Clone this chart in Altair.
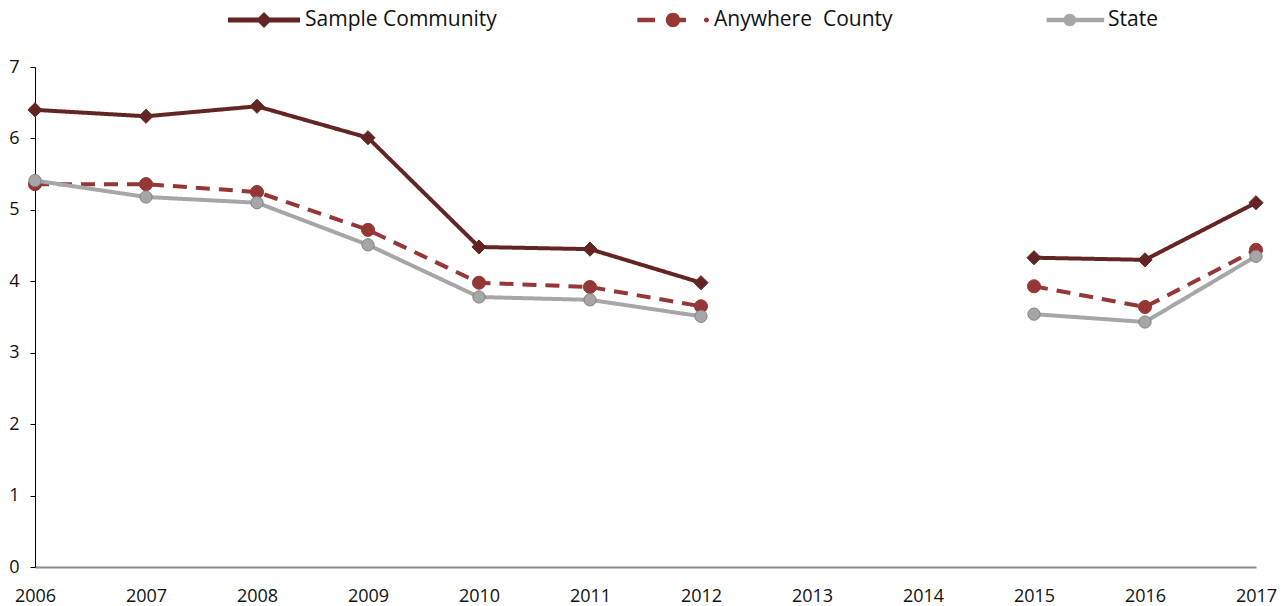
import altair as alt
import pandas as pd

years = [2006, 2007, 2008, 2009, 2010, 2011, 2012, 2013, 2014, 2015, 2016, 2017]
series_names = ["Sample Community", "Anywhere\u00a0 County", "State"]
sample_community = [6.40, 6.31, 6.45, 6.01, 4.48, 4.45, 3.98, None, None, 4.33, 4.30, 5.10]
anywhere_county = [5.36, 5.36, 5.25, 4.72, 3.98, 3.92, 3.65, None, None, 3.93, 3.64, 4.44]
state = [5.41, 5.18, 5.10, 4.51, 3.78, 3.74, 3.51, None, None, 3.54, 3.43, 4.35]
y_ticks = [0, 1, 2, 3, 4, 5, 6, 7]

colors = ["#632523", "#953735", "#A6A6A6"]
marker_shapes = ["diamond", "circle", "circle"]
marker_sizes = [200, 170, 150]
marker_strokes = ["#632523", "#953735", "#7F7F7F"]
dashes = [[1, 0], [14, 9], [1, 0]]

# legend symbols (line + marker), in unit coordinates (1 unit = 12 px)
legend_paths = [
    "M-3,-0.21H3V0.21H-3Z M0,-0.66L0.66,0L0,0.66L-0.66,0Z",
    "M-2.97,-0.18H-1.5V0.18H-2.97Z M0,-0.18H1.08V0.18H0Z "
    "M0.6,0A0.6,0.6 0 1,1 -0.6,0A0.6,0.6 0 1,1 0.6,0Z "
    "M3.0,0A0.21,0.21 0 1,1 2.58,0A0.21,0.21 0 1,1 3.0,0Z M19.4,0Z",
    "M-1.7,-0.18H3.1V0.18H-1.7Z M0.75,0A0.52,0.52 0 1,1 -0.29,0A0.52,0.52 0 1,1 0.75,0Z",
]

rows = []
for name, vals in zip(series_names, [sample_community, anywhere_county, state]):
    seg = 0
    for yr, v in zip(years, vals):
        if v is None:
            seg += 1
            continue
        rows.append({"series": name, "year": yr, "value": v, "seg": seg})
df = pd.DataFrame(rows)

FONT = "Open Sans"

x_enc = alt.X(
    "year:Q",
    scale=alt.Scale(domain=[2006, 2017], nice=False, zero=False),
    axis=alt.Axis(
        values=years, format="d", title=None, ticks=False, tickSize=0,
        grid=False, domainColor="#898989", domainWidth=2, labelFlush=False,
        labelFont=FONT, labelFontSize=18, labelColor="#111111", labelPadding=20,
    ),
)
y_enc = alt.Y(
    "value:Q",
    scale=alt.Scale(domain=[0, 7], nice=False),
    axis=alt.Axis(
        values=y_ticks, title=None, grid=False, tickSize=5, tickColor="#000000",
        domainColor="#000000", domainWidth=1, tickWidth=1,
        labelFont=FONT, labelFontSize=18, labelColor="#111111", labelPadding=11,
    ),
)

base = alt.Chart(df)
layers = []
for i, name in enumerate(series_names):
    sub = base.transform_filter(alt.datum.series == name)
    line = sub.mark_line(
        color=colors[i], strokeWidth=4, strokeDash=dashes[i], strokeCap="butt"
    ).encode(x=x_enc, y=y_enc, detail="seg:N", order="year:Q")
    pts = sub.mark_point(
        shape=marker_shapes[i], filled=True, size=marker_sizes[i], opacity=1,
        fill=colors[i], stroke=marker_strokes[i], strokeWidth=1,
    ).encode(x=x_enc, y=y_enc)
    layers += [line, pts]

legend = alt.Legend(
    title=None, orient="none", direction="horizontal", legendX=217, legendY=-59,
    symbolSize=576, symbolStrokeWidth=0, labelFont=FONT, labelFontSize=21,
    labelColor="#111111", labelLimit=400, labelOffset=29, gridAlign="each",
    columnPadding=140, padding=0,
)
legend_layer = base.transform_filter("false").mark_point(filled=True, opacity=1).encode(
    x=x_enc, y=y_enc,
    fill=alt.Fill("series:N", scale=alt.Scale(domain=series_names, range=colors), legend=legend),
    shape=alt.Shape("series:N", scale=alt.Scale(domain=series_names, range=legend_paths), legend=legend),
)

chart = alt.layer(legend_layer, *layers).properties(
    width=1221, height=500,
    padding={"left": 27, "top": 59, "right": 22, "bottom": 38},
    autosize=alt.AutoSizeParams(type="none"),
).configure_view(stroke=None)

chart.save("out.html", embed_options={"renderer": "svg", "actions": False})
